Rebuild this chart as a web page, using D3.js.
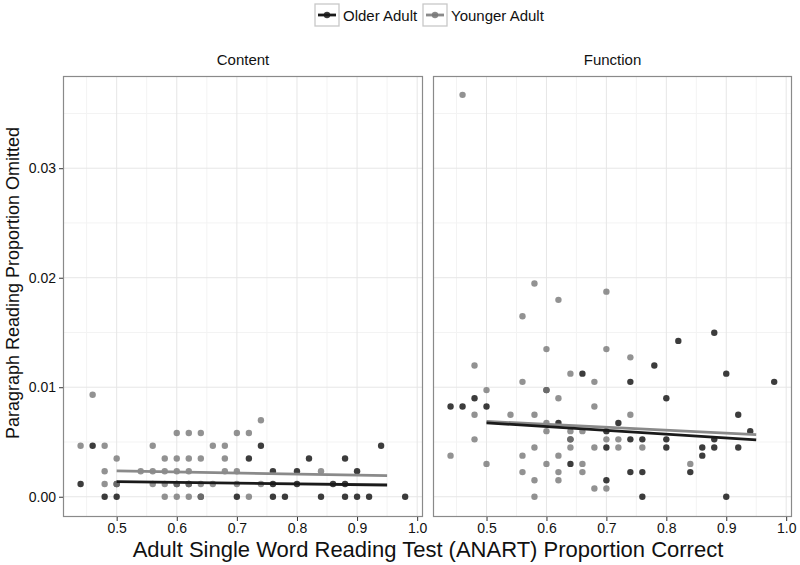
<!DOCTYPE html>
<html><head><meta charset="utf-8">
<script src="https://cdn.jsdelivr.net/npm/d3@7"></script>
<style>body{margin:0;background:#fff}svg{display:block}text{font-family:"Liberation Sans",Arial,Helvetica,sans-serif}</style>
</head><body>
<svg id="chart" width="800" height="565"></svg>
<script>
// ---- data ----
const panels = ["Content", "Function"];
const groups = ["Older Adult", "Younger Adult"];
const xTicks = [0.5, 0.6, 0.7, 0.8, 0.9, 1.0];
const yTicks = [0.00, 0.01, 0.02, 0.03];

const contentOlder = [[0.44,0.00116],[0.46,0.00466],[0.48,0],[0.50,0],[0.50,0.00116],[0.60,0.00116],[0.62,0.00116],[0.64,0],
 [0.70,0],[0.72,0.00349],[0.74,0.00466],[0.76,0.00233],[0.76,0.00116],[0.76,0],[0.78,0],[0.80,0.00233],[0.80,0.00116],
 [0.82,0.00349],[0.84,0],[0.86,0.00116],[0.88,0.00349],[0.88,0.00116],[0.88,0],[0.90,0.00233],[0.90,0],[0.92,0],[0.94,0.00466],[0.98,0]];
const contentYounger = [[0.44,0.00466],[0.46,0.00931],[0.48,0.00466],[0.48,0.00233],[0.48,0.00116],[0.50,0.00349],[0.50,0.00116],
 [0.54,0.00233],[0.56,0.00466],[0.56,0.00233],[0.56,0.00116],[0.58,0.00349],[0.58,0.00233],[0.58,0.00116],[0.58,0],
 [0.60,0.00582],[0.60,0.00349],[0.60,0.00233],[0.60,0.00116],[0.60,0],[0.62,0.00582],[0.62,0.00349],[0.62,0.00233],[0.62,0.00116],[0.62,0],
 [0.64,0.00582],[0.64,0.00349],[0.64,0.00116],[0.64,0],[0.66,0.00466],[0.66,0.00116],[0.68,0.00466],[0.68,0.00349],[0.68,0.00233],
 [0.70,0.00582],[0.70,0.00233],[0.70,0.00116],[0.72,0.00582],[0.72,0],[0.74,0.00698],[0.74,0.00116],[0.84,0.00233]];
const functionOlder = [[0.44,0.00824],[0.46,0.00824],[0.48,0.00899],[0.50,0.00824],[0.60,0.00974],[0.62,0.00674],[0.64,0.00524],[0.64,0.003],
 [0.66,0.01124],[0.70,0.00599],[0.70,0.00449],[0.70,0.0015],[0.72,0.00674],[0.74,0.01049],[0.74,0.00524],[0.74,0.00225],
 [0.76,0.00524],[0.76,0.00225],[0.76,0],[0.78,0.01198],[0.80,0.00899],[0.80,0.00524],[0.80,0.00449],[0.82,0.01423],
 [0.84,0.00225],[0.86,0.00449],[0.86,0.00375],[0.88,0.01498],[0.88,0.00524],[0.88,0.00449],[0.90,0.01124],[0.90,0],
 [0.92,0.00749],[0.92,0.00449],[0.94,0.00599],[0.98,0.01049]];
const functionYounger = [[0.44,0.00375],[0.46,0.0367],[0.48,0.01198],[0.48,0.00749],[0.48,0.00524],[0.50,0.00974],[0.50,0.003],
 [0.54,0.00749],[0.56,0.01648],[0.56,0.01049],[0.56,0.00375],[0.56,0.00225],[0.58,0.01947],[0.58,0.00749],[0.58,0.00449],[0.58,0.0015],[0.58,0],
 [0.60,0.01348],[0.60,0.00974],[0.60,0.00674],[0.60,0.00599],[0.60,0.003],[0.62,0.01798],[0.62,0.00899],[0.62,0.00375],[0.62,0.00225],[0.62,0.0015],
 [0.64,0.01124],[0.64,0.00599],[0.64,0.00524],[0.64,0.00449],[0.66,0.00599],[0.66,0.003],[0.66,0.00225],
 [0.68,0.01049],[0.68,0.00824],[0.68,0.00449],[0.68,0.00075],[0.70,0.01873],[0.70,0.01348],[0.70,0.00524],[0.70,0.00075],
 [0.72,0.00524],[0.72,0.00449],[0.74,0.01273],[0.74,0.00749],[0.76,0.00449],[0.84,0.003]];
// fitted lines: [x, y] at both ends
const contentOlderFit = [[0.50,0.00138],[0.95,0.00107]];
const contentYoungerFit = [[0.50,0.00237],[0.95,0.00192]];
const functionOlderFit = [[0.50,0.00675],[0.95,0.0052]];
const functionYoungerFit = [[0.50,0.00688],[0.95,0.00568]];

const series = {
  Content: {older: contentOlder, younger: contentYounger, olderFit: contentOlderFit, youngerFit: contentYoungerFit},
  Function: {older: functionOlder, younger: functionYounger, olderFit: functionOlderFit, youngerFit: functionYoungerFit}
};

// ---- layout ----
const svg = d3.select("#chart");
const pTop = 76, pBottom = 517;
const panelX = [[63, 423], [433, 792]];
const xDomain = [0.4107, 1.0097];
const yDomain = [-0.00185, 0.03842];
const y = d3.scaleLinear().domain(yDomain).range([pBottom, pTop]);
const colOlder = "#1a1a1a", colYounger = "#777777";

panels.forEach((p, i) => {
  const x = d3.scaleLinear().domain(xDomain).range(panelX[i]);
  const g = svg.append("g");
  const [x0, x1] = panelX[i];
  g.append("rect").attr("x", x0).attr("y", pTop).attr("width", x1 - x0).attr("height", pBottom - pTop).attr("fill", "#fff");
  const xMinor = [0.45, 0.55, 0.65, 0.75, 0.85, 0.95];
  const yMinor = [0.005, 0.015, 0.025, 0.035];
  g.selectAll(".xm").data(xMinor).join("line").attr("x1", d => x(d)).attr("x2", d => x(d)).attr("y1", pTop).attr("y2", pBottom).attr("stroke", "#f3f3f3").attr("stroke-width", 1);
  g.selectAll(".ym").data(yMinor).join("line").attr("y1", d => y(d)).attr("y2", d => y(d)).attr("x1", x0).attr("x2", x1).attr("stroke", "#f3f3f3").attr("stroke-width", 1);
  g.selectAll(".xg").data(xTicks).join("line").attr("x1", d => x(d)).attr("x2", d => x(d)).attr("y1", pTop).attr("y2", pBottom).attr("stroke", "#e6e6e6").attr("stroke-width", 1);
  g.selectAll(".yg").data(yTicks).join("line").attr("y1", d => y(d)).attr("y2", d => y(d)).attr("x1", x0).attr("x2", x1).attr("stroke", "#e6e6e6").attr("stroke-width", 1);

  const s = series[p];
  g.selectAll(".po").data(s.older).join("circle").attr("cx", d => x(d[0])).attr("cy", d => y(d[1])).attr("r", 3.2)
    .attr("fill", colOlder).attr("fill-opacity", 0.85);
  g.selectAll(".py").data(s.younger).join("circle").attr("cx", d => x(d[0])).attr("cy", d => y(d[1])).attr("r", 3.2)
    .attr("fill", colYounger).attr("fill-opacity", 0.8);
  const line = d3.line().x(d => x(d[0])).y(d => y(d[1]));
  g.append("path").datum(s.youngerFit).attr("d", line).attr("stroke", "#8a8a8a").attr("stroke-width", 2.8).attr("fill", "none");
  g.append("path").datum(s.olderFit).attr("d", line).attr("stroke", "#1a1a1a").attr("stroke-width", 2.8).attr("fill", "none");

  g.append("rect").attr("x", x0 + 0.5).attr("y", pTop + 0.5).attr("width", x1 - x0 - 1).attr("height", pBottom - pTop - 1)
    .attr("fill", "none").attr("stroke", "#8a8a8a").attr("stroke-width", 1.2);

  const xAxis = d3.axisBottom(x).tickValues(xTicks).tickFormat(d3.format(".1f")).tickSize(4).tickPadding(2);
  const ax = svg.append("g").attr("transform", `translate(0,${pBottom})`).call(xAxis);
  ax.select(".domain").remove();
  ax.selectAll("line").attr("stroke", "#333");
  ax.selectAll("text").attr("font-size", 14).attr("fill", "#111").style("font-family", '"Liberation Sans",Arial,sans-serif');

  svg.append("text").attr("x", (x0 + x1) / 2).attr("y", 65).attr("text-anchor", "middle").attr("font-size", 15).attr("fill", "#111").text(p);
});

const yAxis = d3.axisLeft(y).tickValues(yTicks).tickFormat(d3.format(".2f")).tickSize(4).tickPadding(3);
const ay = svg.append("g").attr("transform", `translate(63,0)`).call(yAxis);
ay.select(".domain").remove();
ay.selectAll("line").attr("stroke", "#333");
ay.selectAll("text").attr("font-size", 14).attr("fill", "#111").style("font-family", '"Liberation Sans",Arial,sans-serif');

svg.append("text").attr("transform", "translate(19,283) rotate(-90)").attr("text-anchor", "middle").attr("font-size", 18).attr("fill", "#111")
  .text("Paragraph Reading Proportion Omitted");
svg.append("text").attr("x", 428).attr("y", 557).attr("text-anchor", "middle").attr("font-size", 22).attr("fill", "#111")
  .text("Adult Single Word Reading Test (ANART) Proportion Correct");

const legendKeys = [{label: groups[0], col: colOlder, line: "#1a1a1a", x: 315}, {label: groups[1], col: colYounger, line: "#8a8a8a", x: 423}];
const lg = svg.append("g");
legendKeys.forEach(k => {
  lg.append("rect").attr("x", k.x).attr("y", 4).attr("width", 24).attr("height", 22).attr("fill", "#fff").attr("stroke", "#c8c8c8").attr("stroke-width", 1.3);
  lg.append("line").attr("x1", k.x + 3).attr("x2", k.x + 21).attr("y1", 15).attr("y2", 15).attr("stroke", k.line).attr("stroke-width", 2.8);
  lg.append("circle").attr("cx", k.x + 12).attr("cy", 15).attr("r", 3.2).attr("fill", k.col).attr("fill-opacity", 0.85);
  lg.append("text").attr("x", k.x + 28).attr("y", 20.5).attr("font-size", 15).attr("fill", "#111").text(k.label);
});
</script>
</body></html>
